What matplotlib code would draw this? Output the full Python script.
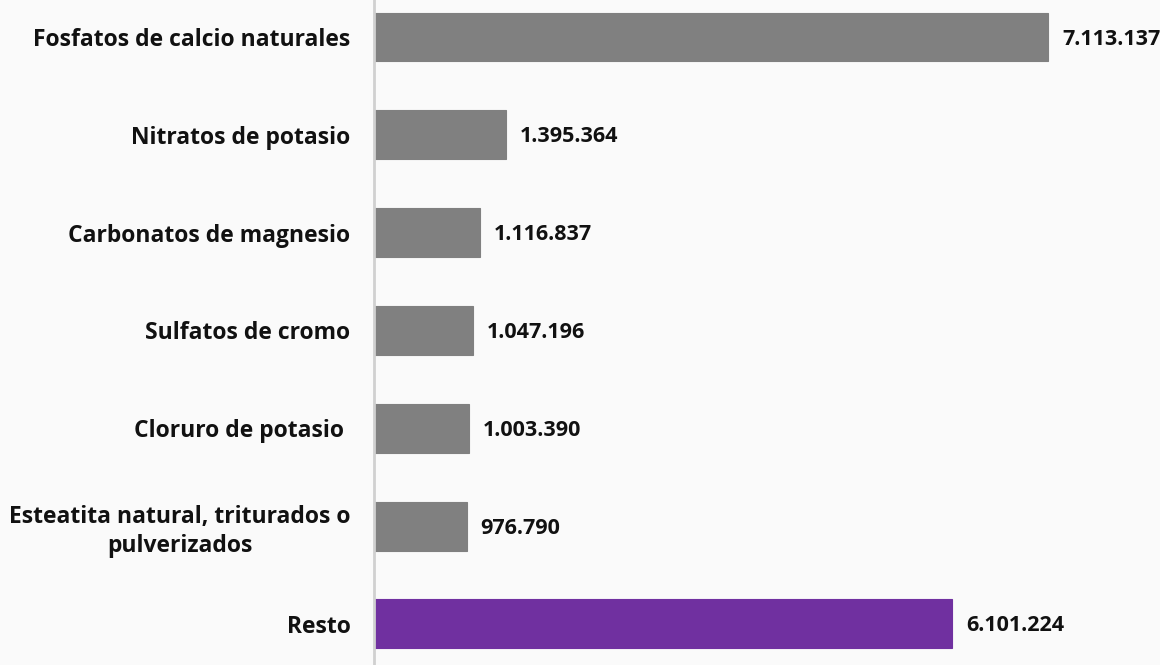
import matplotlib
matplotlib.use("Agg")
import matplotlib.pyplot as plt

categories = [
    "Fosfatos de calcio naturales",
    "Nitratos de potasio",
    "Carbonatos de magnesio",
    "Sulfatos de cromo",
    "Cloruro de potasio ",
    "Esteatita natural, triturados o\npulverizados",
    "Resto",
]
values = [7113137, 1395364, 1116837, 1047196, 1003390, 976790, 6101224]
value_labels = ["7.113.137", "1.395.364", "1.116.837", "1.047.196", "1.003.390", "976.790", "6.101.224"]
colors = ["#808080"] * 6 + ["#7030A0"]

plt.rcParams['font.family'] = ['Open Sans', 'DejaVu Sans']

W, H = 1160, 665
fig = plt.figure(figsize=(W / 100, H / 100), dpi=100, facecolor="#FAFAFA")
ax = fig.add_axes([374 / W, 0, 1 - 374 / W, 1])
ax.set_facecolor("#FAFAFA")

ypos = list(range(len(categories)))
ax.barh(ypos, values, height=0.5, color=colors, edgecolor=colors, linewidth=0.8)
for y, v, lab in zip(ypos, values, value_labels):
    ax.annotate(lab, (v, y), xytext=(10, -1.5), textcoords="offset points",
                va="center", ha="left", fontsize=15.5, fontweight="bold", color="#111111")

ax.set_xlim(0, 8.295e6)
ax.set_ylim(6.42, -0.378)
ax.set_yticks(ypos)
ax.set_yticklabels(categories, fontsize=16.5, fontweight="bold", color="#111111", ha="right",
                   multialignment="center", linespacing=1.25)
ax.tick_params(axis="y", length=0, pad=17)
ax.set_xticks([])
for s in ["top", "right", "bottom"]:
    ax.spines[s].set_visible(False)
ax.spines["left"].set_color("#D0D0D0")
ax.spines["left"].set_linewidth(2)

fig.savefig("out.png", dpi=100, facecolor=fig.get_facecolor())
